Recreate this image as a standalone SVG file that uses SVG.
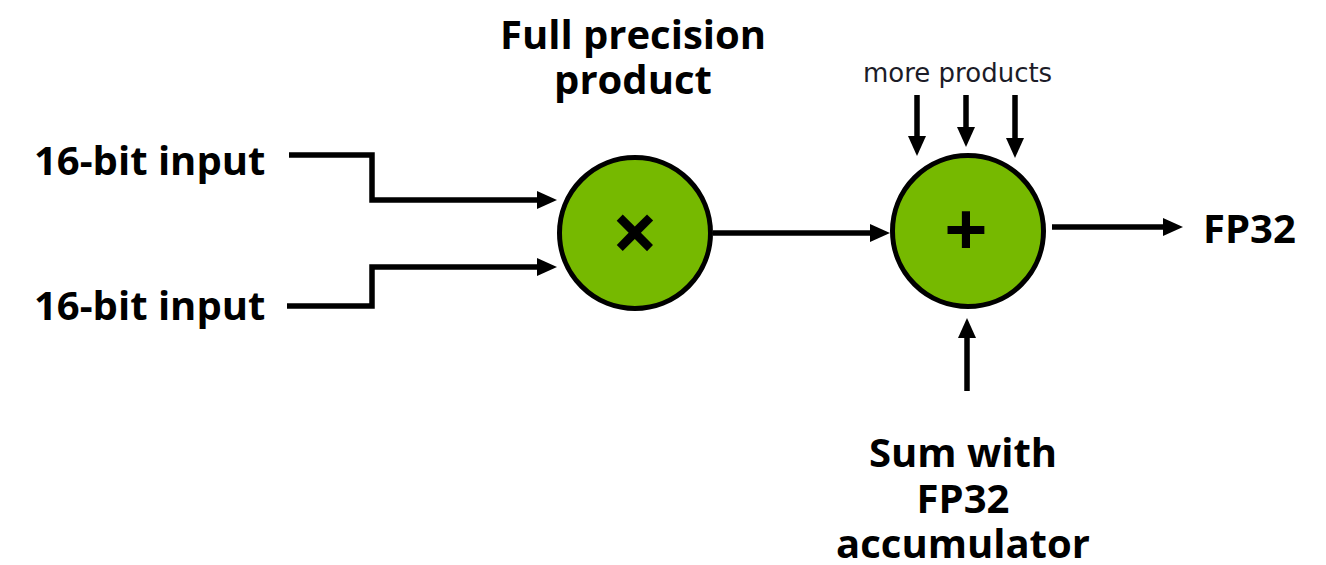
<svg xmlns="http://www.w3.org/2000/svg" width="1326" height="565" viewBox="0 0 1326 565">
<style>
.lbl{font-family:"Open Sans","Noto Sans",sans-serif;font-weight:bold;font-size:40px;fill:#000}
.sm{font-family:"DejaVu Sans",sans-serif;font-size:26px;fill:#1c1c28}
.node{fill:#76b900;stroke:#000;stroke-width:5}
.sym{font-family:"Open Sans",sans-serif;font-weight:bold;fill:#000;text-anchor:middle}
.wire{fill:none;stroke:#000;stroke-width:5.5;stroke-linejoin:miter}
</style>
<defs>
<marker id="ah" markerUnits="userSpaceOnUse" markerWidth="20" markerHeight="20" refX="12" refY="10" orient="auto" viewBox="0 0 20 20">
<path d="M0,1 L20,10 L0,19 z" fill="#000"/>
</marker>
</defs>
<rect width="1326" height="565" fill="#fff"/>
<g id="connectors">
<path class="wire" d="M289,155 H372 V200 H549" marker-end="url(#ah)"/>
<path class="wire" d="M287,306 H372 V267 H549" marker-end="url(#ah)"/>
<path class="wire" d="M713,233 H882" marker-end="url(#ah)"/>
<path class="wire" d="M1052,227 H1175" marker-end="url(#ah)"/>
<path class="wire" d="M917,95 V148" marker-end="url(#ah)"/>
<path class="wire" d="M966,95 V139" marker-end="url(#ah)"/>
<path class="wire" d="M1015,95 V150" marker-end="url(#ah)"/>
<path class="wire" d="M967,391 V326" marker-end="url(#ah)"/>
</g>
<g id="input1"><text class="lbl" x="34" y="175">16-bit input</text></g>
<g id="input2"><text class="lbl" x="34" y="320">16-bit input</text></g>
<g id="multiply">
<circle class="node" cx="635" cy="233" r="75.5"/>
<text class="sym" x="635" y="262" font-size="82">×</text>
</g>
<g id="product-label">
<text class="lbl" x="633" y="49" text-anchor="middle">Full precision</text>
<text class="lbl" x="633" y="94" text-anchor="middle">product</text>
</g>
<g id="add">
<circle class="node" cx="968" cy="231" r="75.5"/>
<text class="sym" x="966" y="256" font-size="76">+</text>
</g>
<g id="more-products"><text class="sm" x="863" y="82">more products</text></g>
<g id="accumulator">
<text class="lbl" x="963" y="467" text-anchor="middle">Sum with</text>
<text class="lbl" x="963" y="513" text-anchor="middle">FP32</text>
<text class="lbl" x="963" y="558" text-anchor="middle">accumulator</text>
</g>
<g id="output"><text class="lbl" x="1203" y="243">FP32</text></g>
</svg>
